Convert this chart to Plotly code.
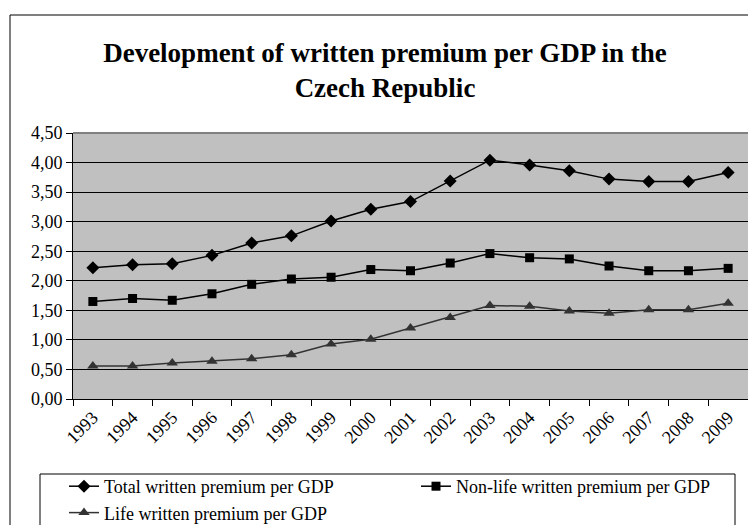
import plotly.graph_objects as go

years = [str(y) for y in range(1993, 2010)]
total = [2.22, 2.27, 2.29, 2.43, 2.64, 2.76, 3.01, 3.21, 3.34, 3.69, 4.04, 3.96, 3.86, 3.72, 3.68, 3.68, 3.83]
nonlife = [1.65, 1.70, 1.67, 1.78, 1.94, 2.03, 2.06, 2.19, 2.17, 2.30, 2.46, 2.39, 2.37, 2.25, 2.17, 2.17, 2.21]
life = [0.56, 0.56, 0.61, 0.64, 0.68, 0.75, 0.93, 1.01, 1.20, 1.38, 1.58, 1.57, 1.49, 1.45, 1.51, 1.51, 1.62]

names = ["Total written premium per GDP", "Non-life written premium per GDP", "Life written premium per GDP"]

FONT = "Liberation Serif"
W, H = 748, 525
L, T, B = 73, 133, 126
PH = H - T - B


def px_x(x):
    return (x - L) / (W - L)


def px_y(y):
    return (H - B - y) / PH


fig = go.Figure()
fig.add_trace(go.Scatter(x=years, y=total, name=names[0], mode="lines+markers",
                         line=dict(color="black", width=1.5),
                         marker=dict(symbol="diamond", size=10, color="black")))
fig.add_trace(go.Scatter(x=years, y=nonlife, name=names[1], mode="lines+markers",
                         line=dict(color="black", width=1.5),
                         marker=dict(symbol="square", size=9, color="black")))
fig.add_trace(go.Scatter(x=years, y=life, name=names[2], mode="lines+markers",
                         line=dict(color="#333333", width=1.5),
                         marker=dict(symbol="triangle-up", size=10, color="#333333")))

fig.update_layout(
    template="none",
    width=W, height=H,
    margin=dict(l=L, r=0, t=T, b=B, autoexpand=False),
    paper_bgcolor="white",
    plot_bgcolor="#C0C0C0",
    separators=", ",
    font=dict(family=FONT, size=18, color="black"),
    title=dict(text="<b>Development of written premium per GDP in the<br>Czech Republic</b>",
               x=385 / W, xanchor="center", xref="container",
               y=1 - 62 / H, yanchor="top", yref="container",
               font=dict(family=FONT, size=27, color="black")),
    showlegend=True,
    legend=dict(orientation="h", x=px_x(64), xanchor="left",
                y=px_y(468), yanchor="top",
                bgcolor="rgba(0,0,0,0)", borderwidth=0,
                entrywidth=307, entrywidthmode="pixels",
                font=dict(family=FONT, size=18, color="black"),
                traceorder="normal", tracegroupgap=0),
    xaxis=dict(type="category", showgrid=False, showline=True, linecolor="black", linewidth=1,
               ticks="outside", tickson="boundaries", ticklen=6, tickcolor="black",
               tickangle=-45, tickfont=dict(family=FONT, size=18, color="black"),
               range=[-0.5, 16.5], automargin=False),
    yaxis=dict(range=[0, 4.5], dtick=0.5, tick0=0, tickformat=".2f",
               showgrid=True, gridcolor="black", gridwidth=1,
               showline=True, linecolor="black", linewidth=1, zeroline=False,
               ticks="outside", ticklen=6, tickcolor="black", automargin=False,
               tickfont=dict(family=FONT, size=18, color="black")),
    shapes=[
        dict(type="line", xref="paper", yref="paper", x0=0, x1=1, y0=1, y1=1,
             line=dict(color="#808080", width=2)),
        dict(type="rect", xref="paper", yref="paper",
             x0=px_x(10), x1=1.2, y0=px_y(15), y1=px_y(560),
             line=dict(color="black", width=1), fillcolor="rgba(0,0,0,0)", layer="below"),
        dict(type="rect", xref="paper", yref="paper",
             x0=px_x(40), x1=px_x(735), y0=px_y(474), y1=px_y(560),
             line=dict(color="black", width=1), fillcolor="white", layer="below"),
    ],
)

fig.write_html("out.html")
